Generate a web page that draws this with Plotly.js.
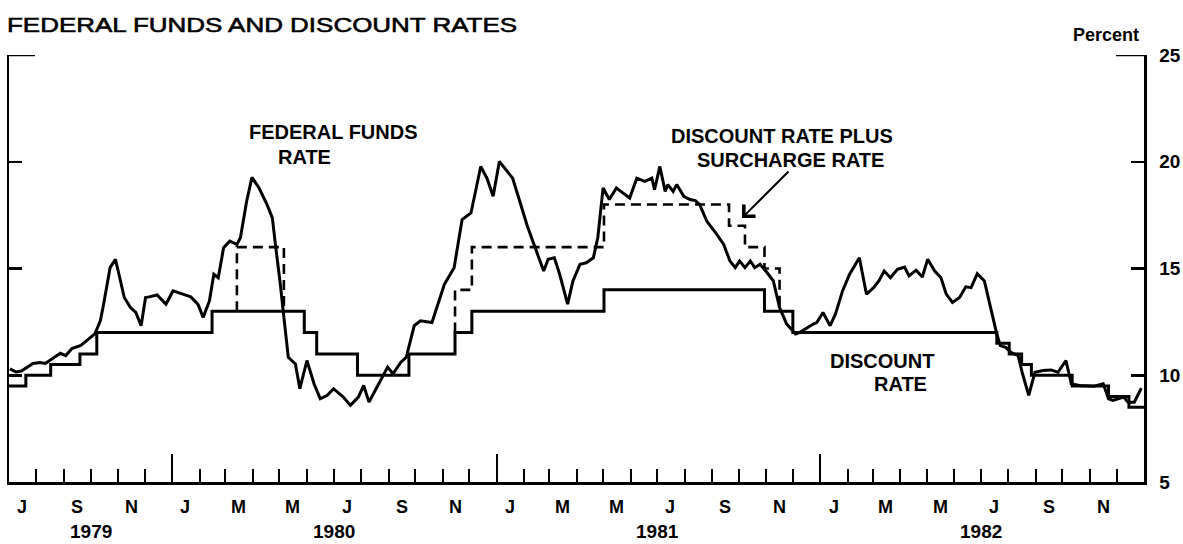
<!DOCTYPE html>
<html>
<head>
<meta charset="utf-8">
<script src="https://cdn.plot.ly/plotly-3.0.1.min.js"></script>
<style>
  html, body { margin: 0; padding: 0; background: #ffffff; }
  #chart { width: 1183px; height: 544px; }
</style>
</head>
<body>
<div id="chart"></div>
<script>
// ---------------- DATA ----------------
const chartTitle = 'FEDERAL FUNDS AND DISCOUNT RATES';

// Federal funds rate (weekly-ish readings, percent)
const ffDates = [
  '1979-07-02','1979-07-09','1979-07-15','1979-07-28','1979-08-05','1979-08-11','1979-08-22','1979-08-28',
  '1979-09-03','1979-09-10','1979-09-20','1979-09-29','1979-10-06','1979-10-12','1979-10-15','1979-10-19',
  '1979-10-23','1979-10-29','1979-11-02','1979-11-08','1979-11-15','1979-11-21','1979-11-27','1979-12-02',
  '1979-12-06','1979-12-15','1979-12-25',
  '1980-01-02','1980-01-13','1980-01-22','1980-01-30','1980-02-05','1980-02-12','1980-02-17','1980-02-22',
  '1980-02-28','1980-03-06','1980-03-14','1980-03-18','1980-03-25','1980-03-31','1980-04-08','1980-04-17',
  '1980-04-23','1980-04-26','1980-05-02','1980-05-06','1980-05-11','1980-05-19','1980-05-24','1980-06-01',
  '1980-06-09','1980-06-16','1980-06-24','1980-07-01','1980-07-12','1980-07-20','1980-07-29','1980-08-04',
  '1980-08-10','1980-08-18','1980-08-31','1980-09-06','1980-09-15','1980-09-21','1980-09-30','1980-10-07',
  '1980-10-20','1980-11-03','1980-11-14','1980-11-23','1980-12-03','1980-12-14','1980-12-21','1980-12-28',
  '1981-01-04','1981-01-10','1981-01-19','1981-01-27','1981-02-04','1981-02-12','1981-02-23','1981-02-28',
  '1981-03-07','1981-03-13','1981-03-22','1981-03-28','1981-04-05','1981-04-12','1981-04-20','1981-04-25',
  '1981-05-01','1981-05-08','1981-05-16','1981-05-21','1981-05-31','1981-06-08','1981-06-17','1981-06-25',
  '1981-06-28','1981-07-04','1981-07-10','1981-07-13','1981-07-19','1981-07-23','1981-07-31','1981-08-07',
  '1981-08-13','1981-08-18','1981-08-26','1981-09-05','1981-09-14','1981-09-21','1981-09-27','1981-10-02',
  '1981-10-08','1981-10-14','1981-10-19','1981-10-25','1981-11-02','1981-11-09','1981-11-16','1981-11-24',
  '1981-12-04','1981-12-09','1981-12-24','1981-12-28',
  '1982-01-04','1982-01-12','1982-01-18','1982-01-26','1982-02-03','1982-02-14','1982-02-22','1982-03-02',
  '1982-03-08','1982-03-14','1982-03-21','1982-03-29','1982-04-06','1982-04-11','1982-04-19','1982-04-26',
  '1982-05-02','1982-05-10','1982-05-17','1982-05-23','1982-05-30','1982-06-07','1982-06-14','1982-06-20',
  '1982-06-27','1982-07-05','1982-07-12','1982-07-19','1982-07-23','1982-07-29','1982-08-04','1982-08-12',
  '1982-08-17','1982-08-24','1982-08-31','1982-09-09','1982-09-18','1982-09-26','1982-10-05','1982-10-11',
  '1982-10-20','1982-11-05','1982-11-16','1982-11-22','1982-11-27','1982-12-09','1982-12-14','1982-12-21',
  '1982-12-29'
];
const ffValues = [
  10.30,10.15,10.20,10.55,10.60,10.55,10.87,11.03,
  10.92,11.25,11.40,11.70,11.95,12.55,13.17,14.10,
  15.04,15.43,14.73,13.64,13.17,12.94,12.32,13.64,
  13.67,13.76,13.33,
  13.95,13.80,13.67,13.33,12.71,13.48,14.73,14.57,
  15.97,16.28,16.13,16.44,18.15,19.27,18.77,17.99,
  17.37,16.28,14.26,12.71,10.84,10.53,9.37,10.69,
  9.60,8.90,9.06,9.37,8.98,8.59,8.98,9.52,
  8.74,9.37,10.38,10.07,10.61,10.84,12.32,12.55,
  12.47,14.26,15.04,17.29,17.60,19.78,19.23,18.38,
  20.01,19.70,19.23,18.15,17.06,16.13,14.88,15.43,
  15.50,14.73,13.33,14.42,15.20,15.27,15.50,16.44,
  18.77,18.23,18.77,18.61,18.30,19.23,19.08,19.23,
  18.69,19.78,18.61,18.93,18.61,18.93,18.38,18.23,
  18.18,17.99,17.21,16.67,16.13,15.35,15.04,15.35,
  15.04,15.35,15.04,15.20,14.80,14.42,13.17,12.40,
  11.93,12.01,12.40,12.47,
  12.94,12.32,12.86,13.95,14.73,15.50,13.80,14.10,
  14.42,14.88,14.57,14.96,15.07,14.65,14.92,14.60,
  15.43,14.88,14.57,13.80,13.41,13.64,14.14,14.10,
  14.76,14.42,13.17,11.93,11.39,11.31,11.07,10.92,
  10.07,9.06,10.14,10.22,10.25,10.14,10.69,9.60,
  9.52,9.48,9.60,8.90,8.82,8.98,8.74,8.74,
  9.40
];

// Discount rate: date from which each level applies (percent)
const discDates = [
  '1979-07-01','1979-07-20','1979-08-17','1979-09-19','1979-10-08','1980-02-15','1980-05-29','1980-06-12',
  '1980-07-28','1980-09-24','1980-11-15','1980-12-04','1981-05-02','1981-10-30','1981-12-01','1982-07-19',
  '1982-08-02','1982-08-16','1982-08-27','1982-10-12','1982-11-22','1982-12-15','1983-01-01'
];
const discValues = [
  9.5,10,10.5,11,12,13,12,11,
  10,11,12,13,14,13,12,11.5,
  11,10.5,10,9.5,9,8.5,8.5
];

// Discount rate plus surcharge (only while a surcharge was in force)
const surDates = [
  '1980-03-14','1980-03-14','1980-05-06',
  null,
  '1980-11-15','1980-11-15','1980-12-04','1981-05-02','1981-09-20','1981-10-08','1981-10-30','1981-11-16'
];
const surValues = [
  13,16,13,
  null,
  12,14,16,18,17,16,15,13
];

// Axis labels
const monthLabels = ['J','S','N','J','M','M','J','S','N','J','M','M','J','S','N','J','M','M','J','S','N'];
const monthLabelDates = [
  '1979-07-16','1979-09-16','1979-11-16','1980-01-16','1980-03-16','1980-05-16','1980-07-16',
  '1980-09-16','1980-11-16','1981-01-16','1981-03-16','1981-05-16','1981-07-16','1981-09-16',
  '1981-11-16','1982-01-16','1982-03-16','1982-05-16','1982-07-16','1982-09-16','1982-11-16'
];
const yearLabels = ['1979','1980','1981','1982'];
const yearLabelDates = ['1979-10-01','1980-07-01','1981-07-01','1982-07-01'];
const yTickVals = [5,10,15,20,25];

// ---------------- LAYOUT ----------------
const W = 1183, H = 544;
const M = { l: 9, r: 39, t: 55, b: 62 };
const plotW = W - M.l - M.r, plotH = H - M.t - M.b;
const px = x => (x - M.l) / plotW;
const py = y => (H - M.b - y) / plotH;

const FONT = 'Liberation Sans, Arial, Helvetica, sans-serif';
const bold = (size) => ({ family: FONT, size: size, color: '#000', weight: 700 });

const traces = [
  {
    x: discDates, y: discValues, type: 'scatter', mode: 'lines',
    line: { color: '#000', width: 3, shape: 'hv' }, hoverinfo: 'skip'
  },
  {
    x: surDates, y: surValues, type: 'scatter', mode: 'lines', connectgaps: false,
    line: { color: '#000', width: 2.6, shape: 'hv', dash: '10px,6px' }, hoverinfo: 'skip'
  },
  {
    x: ffDates, y: ffValues, type: 'scatter', mode: 'lines',
    line: { color: '#000', width: 3, simplify: false }, hoverinfo: 'skip'
  }
];

const annotations = [];
monthLabels.forEach((t, i) => annotations.push({
  text: t, x: monthLabelDates[i], xref: 'x', y: py(507), yref: 'paper',
  xanchor: 'center', yanchor: 'middle', showarrow: false, font: bold(18)
}));
yearLabels.forEach((t, i) => annotations.push({
  text: t, x: yearLabelDates[i], xref: 'x', y: py(543), yref: 'paper',
  xanchor: 'center', yanchor: 'bottom', showarrow: false, borderpad: 0, font: bold(19)
}));
const textLabels = [
  ['Percent', 1106, 35, 18],
  ['FEDERAL FUNDS', 333, 132, 20],
  ['RATE', 304, 157, 20],
  ['DISCOUNT RATE PLUS', 782, 136, 20],
  ['SURCHARGE RATE', 790, 160, 20],
  ['DISCOUNT', 882, 361, 20],
  ['RATE', 900, 384, 20]
];
textLabels.forEach(([t, x, y, s]) => annotations.push({
  text: t, x: px(x), y: py(y), xref: 'paper', yref: 'paper',
  xanchor: 'center', yanchor: 'middle', showarrow: false, font: bold(s)
}));
// pointer arrow to the surcharge line
annotations.push({
  text: '', x: px(742), y: py(218), xref: 'paper', yref: 'paper',
  showarrow: true, ax: 48, ay: -48, arrowhead: 4, arrowsize: 1.6, arrowwidth: 2, arrowcolor: '#000'
});

const layout = {
  width: W, height: H,
  margin: M,
  paper_bgcolor: '#fff', plot_bgcolor: '#fff',
  showlegend: false,
  title: {
    text: chartTitle, xref: 'container', x: 7 / W, xanchor: 'left',
    yref: 'container', y: 1 - 25 / H, yanchor: 'middle',
    font: { family: FONT, size: 21, color: '#000' }
  },
  xaxis: {
    type: 'date', range: ['1979-07-01', '1983-01-01'],
    showline: true, linecolor: '#000', linewidth: 2.5,
    showgrid: false, zeroline: false,
    ticks: 'inside', tickmode: 'linear', tick0: '1980-01-01', dtick: 'M12',
    ticklen: 28, tickwidth: 2, tickcolor: '#000',
    showticklabels: false,
    minor: { ticks: 'inside', tickmode: 'linear', tick0: '1979-07-01', dtick: 'M1',
             ticklen: 13, tickwidth: 2, tickcolor: '#000', showgrid: false },
    fixedrange: true
  },
  yaxis: {
    range: [5, 25], side: 'right',
    tickmode: 'array', tickvals: yTickVals, ticktext: yTickVals.map(String),
    showline: true, linecolor: '#000', linewidth: 2.5, mirror: 'ticks',
    ticks: 'inside', ticklen: 13, tickwidth: 2.5, tickcolor: '#000',
    ticklabelstandoff: 9,
    tickfont: bold(19),
    showgrid: false, zeroline: false, fixedrange: true
  },
  shapes: [
    { type: 'line', xref: 'paper', yref: 'y', x0: 0, x1: px(35), y0: 25, y1: 25,
      line: { color: '#000', width: 2.5 } },
    { type: 'line', xref: 'paper', yref: 'y', x0: px(1116), x1: 1, y0: 25, y1: 25,
      line: { color: '#000', width: 2.5 } }
  ],
  annotations: annotations
};

Plotly.newPlot('chart', traces, layout, { staticPlot: true, displayModeBar: false }).then(gd => {
  const t = gd.querySelector('.gtitle');
  if (t) {
    t.setAttribute('textLength', '510');
    t.setAttribute('lengthAdjust', 'spacingAndGlyphs');
    t.style.stroke = '#000';
    t.style.strokeWidth = '0.6px';
  }
});
</script>
</body>
</html>
